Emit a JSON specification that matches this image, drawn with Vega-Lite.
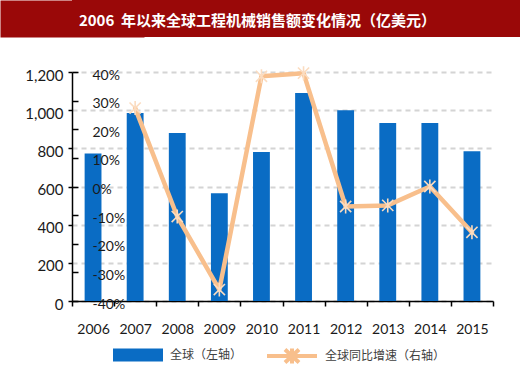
{
  "$schema": "https://vega.github.io/schema/vega-lite/v6.json",
  "background": "white",
  "padding": 0,
  "spacing": 25,
  "bounds": "full",
  "config": {
    "view": {"stroke": null},
    "font": "Lato"
  },
  "vconcat": [
    {
      "width": 448,
      "height": 37,
      "view": {"fill": "#9A0808", "stroke": null},
      "data": {"values": [{"title": "2006\u00a0\u00a0年以来全球工程机械销售额变化情况（亿美元）"}]},
      "mark": {"type": "text", "color": "white", "fontWeight": "bold", "fontSize": 15, "font": "Noto Sans CJK SC", "baseline": "middle", "align": "center", "dx": -38.5, "dy": 2},
      "encoding": {
        "text": {"field": "title", "type": "nominal"},
        "y": {
          "datum": 0, "type": "quantitative",
          "scale": {"domain": [-1, 1]},
          "axis": {"orient": "left", "labels": false, "ticks": false, "grid": false,
                   "title": ".", "titleColor": "#9A0808", "titleFontSize": 10, "titlePadding": 62,
                   "domain": true, "domainColor": "#9A0808", "domainWidth": 144, "domainCap": "butt"}
        }
      }
    },
    {
      "width": 421,
      "height": 229,
      "data": {
        "values": [
          {"year": "2006", "value": 773, "growth": null},
          {"year": "2007", "value": 985, "growth": 0.274},
          {"year": "2008", "value": 881, "growth": -0.105},
          {"year": "2009", "value": 564, "growth": -0.36},
          {"year": "2010", "value": 781, "growth": 0.385},
          {"year": "2011", "value": 1090, "growth": 0.396},
          {"year": "2012", "value": 1000, "growth": -0.07},
          {"year": "2013", "value": 933, "growth": -0.066},
          {"year": "2014", "value": 933, "growth": 0.0},
          {"year": "2015", "value": 785, "growth": -0.16}
        ]
      },
      "encoding": {
        "x": {
          "field": "year", "type": "nominal", "title": null,
          "scale": {"paddingInner": 0, "paddingOuter": 0},
          "axis": {
            "labelAngle": 0, "labelFont": "Lato", "labelFontSize": 14, "labelColor": "#1a1a1a",
            "labelPadding": 16, "tickBand": "extent", "tickSize": 5, "tickColor": "black", "tickWidth": 1.5,
            "domainColor": "black", "domainWidth": 1.5, "grid": false
          }
        }
      },
      "layer": [
        {
          "mark": {"type": "bar", "width": {"band": 0.4}},
          "encoding": {
            "y": {
              "field": "value", "type": "quantitative", "title": null,
              "scale": {"domain": [0, 1200], "nice": false},
              "axis": {
                "values": [0, 200, 400, 600, 800, 1000, 1200], "format": ",d",
                "labelFont": "Lato", "labelFontSize": 15, "labelColor": "#1a1a1a", "labelPadding": 5, "labelOffset": 3,
                "tickSize": 4, "tickColor": "black", "tickWidth": 1.5,
                "domainColor": "black", "domainWidth": 1.5,
                "grid": true, "gridDash": [5, 4], "gridColor": "#d4d4d4", "gridWidth": 2
              }
            },
            "fill": {
              "datum": "全球（左轴）",
              "scale": {"range": ["#0A6CC4"]},
              "legend": {
                "orient": "none", "legendX": 40, "legendY": 349, "direction": "horizontal", "title": null,
                "labelFont": "Noto Sans CJK SC", "labelFontSize": 12, "labelColor": "#404040",
                "symbolSize": 100, "labelOffset": 46,
                "symbolType": "M-1,-1.3H9V1.3H-1Z", "symbolStrokeWidth": 0, "symbolOpacity": 1
              }
            }
          }
        },
        {
          "encoding": {
            "y": {
              "field": "growth", "type": "quantitative", "title": null,
              "scale": {"domain": [-0.4, 0.4], "nice": false},
              "axis": {
                "orient": "right", "offset": -421, "zindex": 1,
                "values": [-0.4, -0.3, -0.2, -0.1, 0, 0.1, 0.2, 0.3, 0.4],
                "labelExpr": "(datum.value < -0.001 ? '-' : '') + format(abs(datum.value) * 100, '.0f') + '%'",
                "labelFont": "Lato", "labelFontSize": 14, "labelColor": "#1a1a1a", "labelPadding": 14, "labelOffset": 3,
                "tickSize": 6, "tickColor": "black", "tickWidth": 1.5,
                "domain": false, "grid": false
              }
            }
          },
          "layer": [
            {
              "mark": {"type": "line", "strokeWidth": 4.5, "strokeCap": "round", "strokeJoin": "round"},
              "encoding": {
                "stroke": {
                  "datum": "全球同比增速（右轴）",
                  "scale": {"range": ["#F8BF8C"]},
                  "legend": {
                    "orient": "none", "legendX": 193, "legendY": 349, "direction": "horizontal", "title": null,
                    "labelFont": "Noto Sans CJK SC", "labelFontSize": 12, "labelColor": "#404040",
                    "symbolSize": 100, "labelOffset": 46,
                    "symbolType": "M-1,0H9M2.6,-1.3L5.4,1.3M2.6,1.3L5.4,-1.3M4,-1.5V1.5",
                    "symbolStrokeWidth": 4, "symbolOpacity": 1
                  }
                }
              }
            },
            {
              "mark": {"type": "point", "shape": "M-0.8,-0.8L0.8,0.8M-0.8,0.8L0.8,-0.8M0,-1L0,1", "filled": false, "size": 196, "strokeWidth": 1.6, "color": "#FBDCC0", "opacity": 1}
            }
          ]
        }
      ],
      "resolve": {"scale": {"y": "independent"}}
    }
  ]
}
